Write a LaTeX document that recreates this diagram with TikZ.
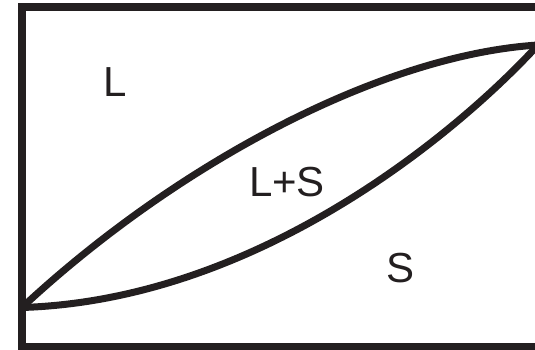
\documentclass[tikz,border=0pt]{standalone}
\usepackage{fontspec}
\setmainfont{Liberation Sans}
\usepackage{xcolor}
\definecolor{inkdark}{HTML}{231F20}

\begin{document}
\begin{tikzpicture}[
  x=1pt, y=-1pt,
  frame/.style={draw=inkdark, line width=8pt},
  phaseline/.style={draw=inkdark, line width=7pt},
  region/.style={font=\fontsize{42}{42}\selectfont, text=inkdark, inner sep=0pt}
]
  \useasboundingbox (0,0) rectangle (535,350);
  \clip (0,0) rectangle (535,350);

  % outer box, right side runs off the page
  \draw[frame] (600,7) -- (21.5,7) -- (21.5,346.5) -- (600,346.5);

  % melting points of the two ends
  \coordinate (ma) at (22,307.5);
  \coordinate (mb) at (538,45);

  % liquidus and solidus
  \draw[phaseline] (ma) .. controls (175,165) and (380,55) .. (mb);
  \draw[phaseline] (ma) .. controls (260,300) and (460,130) .. (mb);

  \node[region] (liq) at (115,82) {L};
  \node[region] (mush) at (287,182) {L+S};
  \node[region] (sol) at (401,268) {S};
\end{tikzpicture}
\end{document}
